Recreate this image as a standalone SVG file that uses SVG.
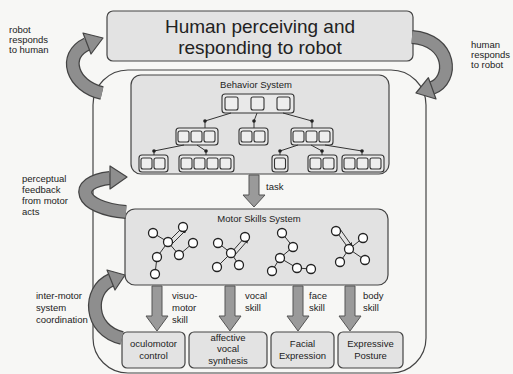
<svg xmlns="http://www.w3.org/2000/svg" width="513" height="374" viewBox="0 0 513 374">
<style>
text{font-family:"Liberation Sans",Arial,sans-serif;fill:#222}
.lbl{font-size:9.5px}
.box{fill:#e3e3e3;stroke:#444;stroke-width:1.2}
.sys{fill:#e2e2e2;stroke:#444;stroke-width:1.2}
.grp{fill:#e9e9e9;stroke:#333;stroke-width:1.1}
.sq{fill:#eeeeee;stroke:#333;stroke-width:1.1}
.edge{fill:none;stroke:#333;stroke-width:1}
.dot{fill:#222}
.nd{fill:#fff;stroke:#222;stroke-width:1.3}
.rib-o{fill:none;stroke:#444;stroke-width:14}
.rib-i{fill:none;stroke:#8e8e8e;stroke-width:11.5}
.head{fill:#8e8e8e;stroke:#444;stroke-width:1.2;stroke-linejoin:round}
.down{fill:#9a9a9a;stroke:#555;stroke-width:1}
</style>
<defs>
<marker id="ah" viewBox="0 0 6 6" refX="5" refY="3" markerWidth="4" markerHeight="4" orient="auto"><path d="M0,0 L6,3 L0,6 z" fill="#222"/></marker>
</defs>
<rect x="0" y="0" width="513" height="374" fill="#f7f7f5"/>

<g id="outer">
<rect x="93" y="70" width="333" height="303" rx="35" fill="#f7f7f5" stroke="#444" stroke-width="1.2"/>
</g>

<g id="human">
<rect class="box" x="107" y="11" width="306" height="50" rx="6"/>
<text x="260" y="33" font-size="19" text-anchor="middle">Human perceiving and</text>
<text x="260" y="54" font-size="19" text-anchor="middle">responding to robot</text>
</g>

<g id="behavior">
<rect class="sys" x="131" y="75" width="258" height="99" rx="10"/>
<text class="lbl" x="256" y="88" text-anchor="middle">Behavior System</text>
<rect class="grp" x="222" y="94" width="72" height="19" rx="3"/>
<rect class="sq" x="225" y="97" width="13" height="13" rx="2"/>
<rect class="sq" x="251" y="97" width="13" height="13" rx="2"/>
<rect class="sq" x="277" y="97" width="13" height="13" rx="2"/>
<rect class="grp" x="176" y="128" width="42" height="17" rx="3"/>
<rect class="sq" x="178" y="131" width="11" height="11" rx="2"/>
<rect class="sq" x="191" y="131" width="11" height="11" rx="2"/>
<rect class="sq" x="204" y="131" width="11" height="11" rx="2"/>
<rect class="grp" x="239" y="128" width="29" height="17" rx="3"/>
<rect class="sq" x="241" y="131" width="11" height="11" rx="2"/>
<rect class="sq" x="254" y="131" width="11" height="11" rx="2"/>
<rect class="grp" x="291" y="128" width="42" height="17" rx="3"/>
<rect class="sq" x="293" y="131" width="11" height="11" rx="2"/>
<rect class="sq" x="306" y="131" width="11" height="11" rx="2"/>
<rect class="sq" x="319" y="131" width="11" height="11" rx="2"/>
<rect class="grp" x="139" y="155" width="29" height="17" rx="3"/>
<rect class="sq" x="141" y="158" width="11" height="11" rx="2"/>
<rect class="sq" x="154" y="158" width="11" height="11" rx="2"/>
<rect class="grp" x="179" y="155" width="55" height="17" rx="3"/>
<rect class="sq" x="181" y="158" width="11" height="11" rx="2"/>
<rect class="sq" x="194" y="158" width="11" height="11" rx="2"/>
<rect class="sq" x="207" y="158" width="11" height="11" rx="2"/>
<rect class="sq" x="220" y="158" width="11" height="11" rx="2"/>
<rect class="grp" x="272" y="155" width="16" height="17" rx="3"/>
<rect class="sq" x="274.5" y="158" width="11" height="11" rx="2"/>
<rect class="grp" x="308" y="155" width="29" height="17" rx="3"/>
<rect class="sq" x="310" y="158" width="11" height="11" rx="2"/>
<rect class="sq" x="323" y="158" width="11" height="11" rx="2"/>
<rect class="grp" x="342" y="155" width="42" height="17" rx="3"/>
<rect class="sq" x="344" y="158" width="11" height="11" rx="2"/>
<rect class="sq" x="357" y="158" width="11" height="11" rx="2"/>
<rect class="sq" x="370" y="158" width="11" height="11" rx="2"/>
<g class="tree">
<polyline class="edge" points="231,113 205,121 205,128"/><circle class="dot" cx="205" cy="121" r="1.8"/>
<polyline class="edge" points="257,113 254,121 254,128"/><circle class="dot" cx="254" cy="121" r="1.8"/>
<polyline class="edge" points="283,113 312,121 312,128"/><circle class="dot" cx="312" cy="121" r="1.8"/>
<polyline class="edge" points="184,145 154,151 154,155"/><circle class="dot" cx="154" cy="151" r="1.8"/>
<polyline class="edge" points="197,145 206,151 206,155"/><circle class="dot" cx="206" cy="151" r="1.8"/>
<polyline class="edge" points="298,145 280,151 280,155"/><circle class="dot" cx="280" cy="151" r="1.8"/>
<polyline class="edge" points="311,145 322,151 322,155"/><circle class="dot" cx="322" cy="151" r="1.8"/>
<polyline class="edge" points="325,145 362,151 362,155"/><circle class="dot" cx="362" cy="151" r="1.8"/>
</g>
</g>

<g id="motor">
<rect class="sys" x="125" y="209" width="263" height="76" rx="10"/>
<text class="lbl" x="259" y="222" text-anchor="middle">Motor Skills System</text>
<g class="net">
<line class="edge" x1="153" y1="233" x2="168" y2="242" marker-end="url(#ah)"/>
<line class="edge" x1="168" y1="242" x2="183" y2="227" marker-end="url(#ah)"/>
<line class="edge" x1="171" y1="245" x2="186" y2="230" marker-end="url(#ah)"/>
<line class="edge" x1="168" y1="242" x2="179" y2="255" marker-end="url(#ah)"/>
<line class="edge" x1="179" y1="255" x2="193" y2="243" marker-end="url(#ah)"/>
<line class="edge" x1="168" y1="242" x2="157" y2="257" marker-end="url(#ah)"/>
<line class="edge" x1="155" y1="274" x2="157" y2="257" marker-end="url(#ah)"/>
<line class="edge" x1="231" y1="253" x2="218" y2="243" marker-end="url(#ah)"/>
<line class="edge" x1="231" y1="253" x2="245" y2="237" marker-end="url(#ah)"/>
<line class="edge" x1="234" y1="256" x2="248" y2="240" marker-end="url(#ah)"/>
<line class="edge" x1="231" y1="253" x2="217" y2="267" marker-end="url(#ah)"/>
<line class="edge" x1="231" y1="253" x2="239" y2="265" marker-end="url(#ah)"/>
<line class="edge" x1="282" y1="233" x2="293" y2="247" marker-end="url(#ah)"/>
<line class="edge" x1="293" y1="247" x2="280" y2="258" marker-end="url(#ah)"/>
<line class="edge" x1="280" y1="258" x2="272" y2="271" marker-end="url(#ah)"/>
<line class="edge" x1="280" y1="258" x2="297" y2="268" marker-end="url(#ah)"/>
<line class="edge" x1="311" y1="269" x2="297" y2="268" marker-end="url(#ah)"/>
<line class="edge" x1="336" y1="231" x2="349" y2="249" marker-end="url(#ah)"/>
<line class="edge" x1="340" y1="229" x2="352" y2="246" marker-end="url(#ah)"/>
<line class="edge" x1="349" y1="249" x2="363" y2="238" marker-end="url(#ah)"/>
<line class="edge" x1="349" y1="249" x2="340" y2="262" marker-end="url(#ah)"/>
<line class="edge" x1="349" y1="249" x2="365" y2="260" marker-end="url(#ah)"/>
</g>
<g class="nodes">
<circle class="nd" cx="153" cy="233" r="4.5"/><circle class="nd" cx="183" cy="227" r="4.5"/><circle class="nd" cx="168" cy="242" r="4.5"/><circle class="nd" cx="193" cy="243" r="4.5"/><circle class="nd" cx="179" cy="255" r="4.5"/><circle class="nd" cx="157" cy="257" r="4.5"/><circle class="nd" cx="155" cy="274" r="4.5"/>
<circle class="nd" cx="218" cy="243" r="4.5"/><circle class="nd" cx="245" cy="237" r="4.5"/><circle class="nd" cx="231" cy="253" r="4.5"/><circle class="nd" cx="217" cy="267" r="4.5"/><circle class="nd" cx="239" cy="265" r="4.5"/>
<circle class="nd" cx="282" cy="233" r="4.5"/><circle class="nd" cx="293" cy="247" r="4.5"/><circle class="nd" cx="280" cy="258" r="4.5"/><circle class="nd" cx="272" cy="271" r="4.5"/><circle class="nd" cx="297" cy="268" r="4.5"/><circle class="nd" cx="311" cy="269" r="4.5"/>
<circle class="nd" cx="336" cy="231" r="4.5"/><circle class="nd" cx="363" cy="238" r="4.5"/><circle class="nd" cx="349" cy="249" r="4.5"/><circle class="nd" cx="340" cy="262" r="4.5"/><circle class="nd" cx="365" cy="260" r="4.5"/>
</g>
</g>

<g id="oculomotor">
<rect class="box" x="122" y="332" width="63" height="36" rx="5"/>
<text class="lbl" x="153.5" y="347" text-anchor="middle">oculomotor</text>
<text class="lbl" x="153.5" y="359" text-anchor="middle">control</text>
</g>
<g id="vocal">
<rect class="box" x="189" y="332" width="78" height="36" rx="5"/>
<text class="lbl" x="228" y="341" text-anchor="middle">affective</text>
<text class="lbl" x="228" y="352" text-anchor="middle">vocal</text>
<text class="lbl" x="228" y="364" text-anchor="middle">synthesis</text>
</g>
<g id="facial">
<rect class="box" x="271" y="332" width="63" height="36" rx="5"/>
<text class="lbl" x="302.5" y="347" text-anchor="middle">Facial</text>
<text class="lbl" x="302.5" y="359" text-anchor="middle">Expression</text>
</g>
<g id="posture">
<rect class="box" x="338" y="332" width="65" height="36" rx="5"/>
<text class="lbl" x="370.5" y="347" text-anchor="middle">Expressive</text>
<text class="lbl" x="370.5" y="359" text-anchor="middle">Posture</text>
</g>

<g id="connectors">
<path class="down" d="M249,175 H259 V195 H265 L254,207 L243,195 H249 Z"/>
<text class="lbl" x="266" y="190">task</text>

<path class="down" d="M152,286 H162 V316 H168 L157,331 L146,316 H152 Z"/>
<path class="down" d="M225,286 H235 V316 H241 L230,331 L219,316 H225 Z"/>
<path class="down" d="M293,286 H303 V316 H309 L298,331 L287,316 H293 Z"/>
<path class="down" d="M345,286 H355 V316 H361 L350,331 L339,316 H345 Z"/>
<text class="lbl" x="172" y="299">visuo-</text>
<text class="lbl" x="172" y="311">motor</text>
<text class="lbl" x="172" y="323">skill</text>
<text class="lbl" x="245" y="299">vocal</text>
<text class="lbl" x="245" y="311">skill</text>
<text class="lbl" x="309" y="299">face</text>
<text class="lbl" x="309" y="311">skill</text>
<text class="lbl" x="363" y="299">body</text>
<text class="lbl" x="363" y="311">skill</text>

<path class="rib-o" d="M102,93 C72,86 62,56 87,44"/>
<path class="rib-i" d="M102,93 C72,86 62,56 87,44"/>
<polygon class="head" points="91,54 83,33 103,38"/>

<path class="rib-o" d="M412,37 C452,40 454,80 432,88"/>
<path class="rib-i" d="M412,37 C452,40 454,80 432,88"/>
<polygon class="head" points="436,99 428.4,77.7 416,93"/>

<path class="rib-o" d="M126,212 C78,208 72,182 110,178"/>
<path class="rib-i" d="M126,212 C78,208 72,182 110,178"/>
<polygon class="head" points="110,166 110,189 127,177"/>

<path class="rib-o" d="M122,338 C88,330 88,290 111,280"/>
<path class="rib-i" d="M122,338 C88,330 88,290 111,280"/>
<polygon class="head" points="115,290 107,270 125,275"/>

<text class="lbl" x="9" y="33">robot</text>
<text class="lbl" x="9" y="43">responds</text>
<text class="lbl" x="9" y="53">to human</text>
<text class="lbl" x="471" y="48">human</text>
<text class="lbl" x="471" y="58">responds</text>
<text class="lbl" x="471" y="68">to robot</text>
<text class="lbl" x="22" y="182">perceptual</text>
<text class="lbl" x="22" y="193">feedback</text>
<text class="lbl" x="22" y="204">from motor</text>
<text class="lbl" x="22" y="215">acts</text>
<text class="lbl" x="36" y="299">inter-motor</text>
<text class="lbl" x="36" y="311">system</text>
<text class="lbl" x="36" y="323">coordination</text>
</g>
</svg>
